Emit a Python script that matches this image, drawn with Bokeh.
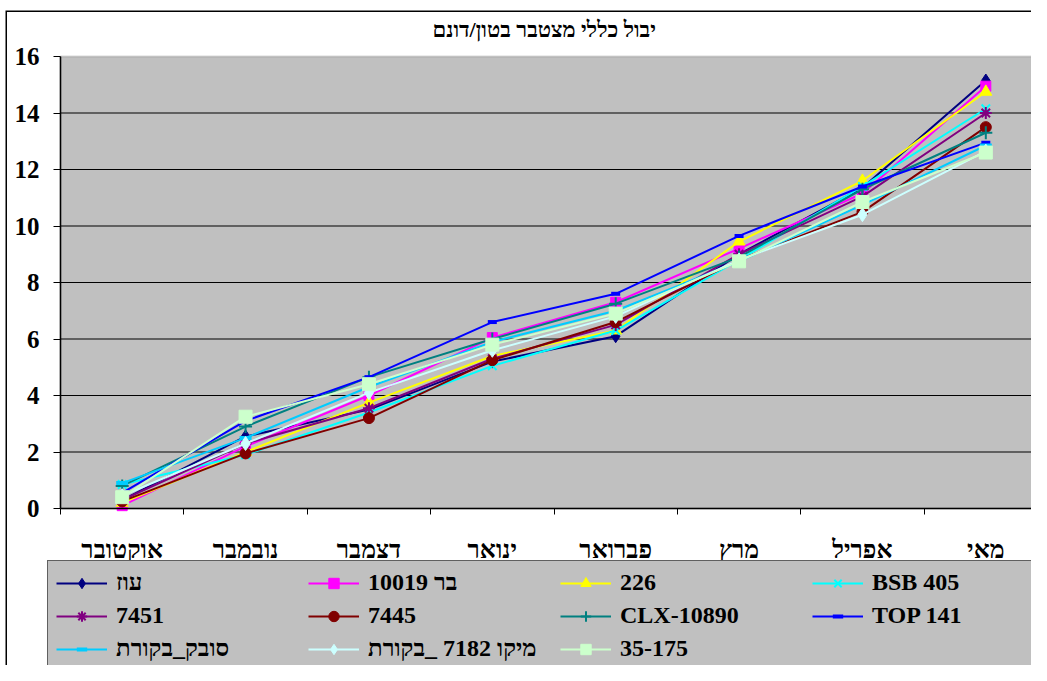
from bokeh.plotting import figure
from bokeh.models import Range1d, FixedTicker, Legend, LegendItem, BoxAnnotation
from bokeh.embed import file_html
from bokeh.resources import INLINE

months = ["אוקטובר", "נובמבר", "דצמבר", "ינואר", "פברואר", "מרץ", "אפריל", "מאי"]

oz = [0.3, 2.55, 3.5, 5.2, 6.1, 9.0, 11.35, 15.15]
bar_10019 = [0.1, 2.2, 4.0, 6.05, 7.3, 9.2, 11.15, 14.95]
s226 = [0.2, 2.0, 3.75, 5.4, 6.3, 9.45, 11.6, 14.75]
bsb405 = [0.85, 1.9, 3.4, 5.05, 6.3, 8.8, 11.4, 14.15]
s7451 = [0.3, 2.3, 3.55, 5.3, 6.5, 9.0, 11.05, 14.0]
s7445 = [0.25, 1.95, 3.2, 5.25, 6.6, 8.8, 10.5, 13.5]
clx10890 = [0.8, 2.9, 4.65, 6.0, 7.25, 8.9, 11.3, 13.3]
top141 = [0.55, 3.1, 4.65, 6.6, 7.6, 9.65, 11.4, 12.95]
sovak = [0.9, 2.5, 4.3, 5.9, 7.0, 8.75, 10.75, 12.85]
miko = [0.45, 2.3, 4.1, 5.6, 6.8, 8.8, 10.4, 12.65]
s35_175 = [0.4, 3.25, 4.4, 5.8, 6.9, 8.75, 10.85, 12.6]

series_names = ["עוז", "בר 10019", "226", "BSB 405", "7451", "7445",
                "CLX-10890", "TOP 141", "סובק_בקורת", "מיקו 7182 _בקורת", "35-175"]
series_values = [oz, bar_10019, s226, bsb405, s7451, s7445,
                 clx10890, top141, sovak, miko, s35_175]
y_ticks = [0, 2, 4, 6, 8, 10, 12, 14, 16]
title_text = "יבול כללי מצטבר בטון/דונם"

styles = [
    dict(color="#000080", marker="diamond", size=13, mlw=1),
    dict(color="#FF00FF", marker="square", size=10, mlw=1),
    dict(color="#FFFF00", marker="triangle", size=12, mlw=1),
    dict(color="#00FFFF", marker="x", size=12, mlw=2),
    dict(color="#800080", marker="asterisk", size=12, mlw=2),
    dict(color="#800000", marker="circle", size=11, mlw=1),
    dict(color="#008080", marker="cross", size=13, mlw=2),
    dict(color="#0000FF", marker="dash", size=9, mlw=4),
    dict(color="#00CCFF", marker="dash", size=12, mlw=4),
    dict(color="#CCFFFF", marker="diamond", size=14, mlw=1),
    dict(color="#CCFFCC", marker="square", size=13, mlw=1),
]

FONT = "Liberation Serif"

# layout in pixels (canvas coordinates)
W, H = 1031, 665
TOP = 42                 # frame top (title panel above it)
PLOT_LEFT = 60           # plot-area left edge
PLOT_W = 987             # plot-area width (runs past the canvas edge)
Y_TOP_PX, Y_ZERO_PX = 56, 508

n = len(months)
ppu_x = PLOT_W / n
ppu_y = (Y_ZERO_PX - Y_TOP_PX) / (y_ticks[-1] - y_ticks[0])
x_range = Range1d(-PLOT_LEFT / ppu_x, (W - PLOT_LEFT) / ppu_x)
y_range = Range1d(y_ticks[0] - (H - Y_ZERO_PX) / ppu_y,
                  y_ticks[-1] + (Y_TOP_PX - TOP) / ppu_y)

p = figure(width=W, height=H, output_backend="svg", toolbar_location=None,
           x_range=x_range, y_range=y_range,
           min_border_left=0, min_border_right=0, min_border_top=TOP,
           min_border_bottom=0, title=title_text)

p.background_fill_color = None
p.border_fill_color = None
p.outline_line_color = None
p.styles = {"background-color": "white",
            "box-shadow": "inset 5.5px 0 0 0 white, inset 0 10.5px 0 0 white, "
                          "inset 7px 0 0 0 black, inset 0 12px 0 0 black"}

p.title.align = "left"
p.title.offset = 432
p.title.text_font = FONT
p.title.text_font_style = "bold"
p.title.text_font_size = "22px"
p.title.text_color = "black"
p.title.standoff = 1

# grey plot area
p.add_layout(BoxAnnotation(left=0, right=n, bottom=y_ticks[0], top=y_ticks[-1],
                           fill_color="#C0C0C0", fill_alpha=1,
                           line_color="#808080", line_width=2, level="underlay"))

xs = [i + 0.5 for i in range(n)]

# horizontal grid lines inside the plot area
grid_y = y_ticks[1:-1]
p.segment(x0=[0] * len(grid_y), x1=[n] * len(grid_y), y0=grid_y, y1=grid_y,
          line_color="black", line_width=1.2)

p.xgrid.visible = False
p.ygrid.visible = False

p.xaxis.fixed_location = 0
p.xaxis.bounds = (0, n)
p.xaxis.ticker = FixedTicker(ticks=xs, minor_ticks=list(range(n + 1)))
p.xaxis.major_label_overrides = {x: m for x, m in zip(xs, months)}
p.xaxis.major_tick_line_color = None
p.xaxis.major_tick_out = 6
p.xaxis.minor_tick_line_color = "black"
p.xaxis.minor_tick_out = 6
p.xaxis.minor_tick_in = 0
p.xaxis.axis_line_color = "black"
p.xaxis.axis_line_width = 1.5
p.xaxis.major_label_standoff = 21
p.xaxis.major_label_text_font = FONT
p.xaxis.major_label_text_font_style = "bold"
p.xaxis.major_label_text_font_size = "25px"
p.xaxis.major_label_text_color = "black"

p.yaxis.fixed_location = 0
p.yaxis.bounds = (y_ticks[0], y_ticks[-1])
p.yaxis.ticker = FixedTicker(ticks=y_ticks)
p.yaxis.minor_tick_line_color = None
p.yaxis.major_tick_out = 7
p.yaxis.major_tick_in = 0
p.yaxis.major_tick_line_color = "black"
p.yaxis.axis_line_color = "black"
p.yaxis.axis_line_width = 1.5
p.yaxis.major_label_standoff = 14
p.yaxis.major_label_text_align = "right"
p.yaxis.major_label_text_font = FONT
p.yaxis.major_label_text_font_style = "bold"
p.yaxis.major_label_text_font_size = "25px"
p.yaxis.major_label_text_color = "black"

items = []
for name, vals, st in zip(series_names, series_values, styles):
    lr = p.line(xs, vals, line_color=st["color"], line_width=2)
    sr = p.scatter(xs, vals, marker=st["marker"], size=st["size"],
                   fill_color=st["color"], line_color=st["color"],
                   line_width=st["mlw"])
    items.append(LegendItem(label=name, renderers=[lr, sr]))

LEG_LEFT, LEG_TOP, LEG_PAD, ROW_H, ROW_GAP = 47, 565, 8, 26, 6
leg_h = 2 * LEG_PAD + 3 * ROW_H + 2 * ROW_GAP
legend = Legend(items=items, orientation="horizontal", ncols=4,
                location=(LEG_LEFT, H - (LEG_TOP + leg_h)),
                background_fill_color="#C0C0C0", background_fill_alpha=1,
                border_line_color="black", border_line_width=1.5,
                glyph_width=51, glyph_height=ROW_H, label_height=ROW_H,
                label_width=186, label_standoff=9, spacing=ROW_GAP,
                padding=LEG_PAD, margin=0,
                label_text_font=FONT, label_text_font_style="bold",
                label_text_font_size="24px", label_text_color="black")
p.add_layout(legend, "center")

open("out.html", "w").write(file_html(p, INLINE))
